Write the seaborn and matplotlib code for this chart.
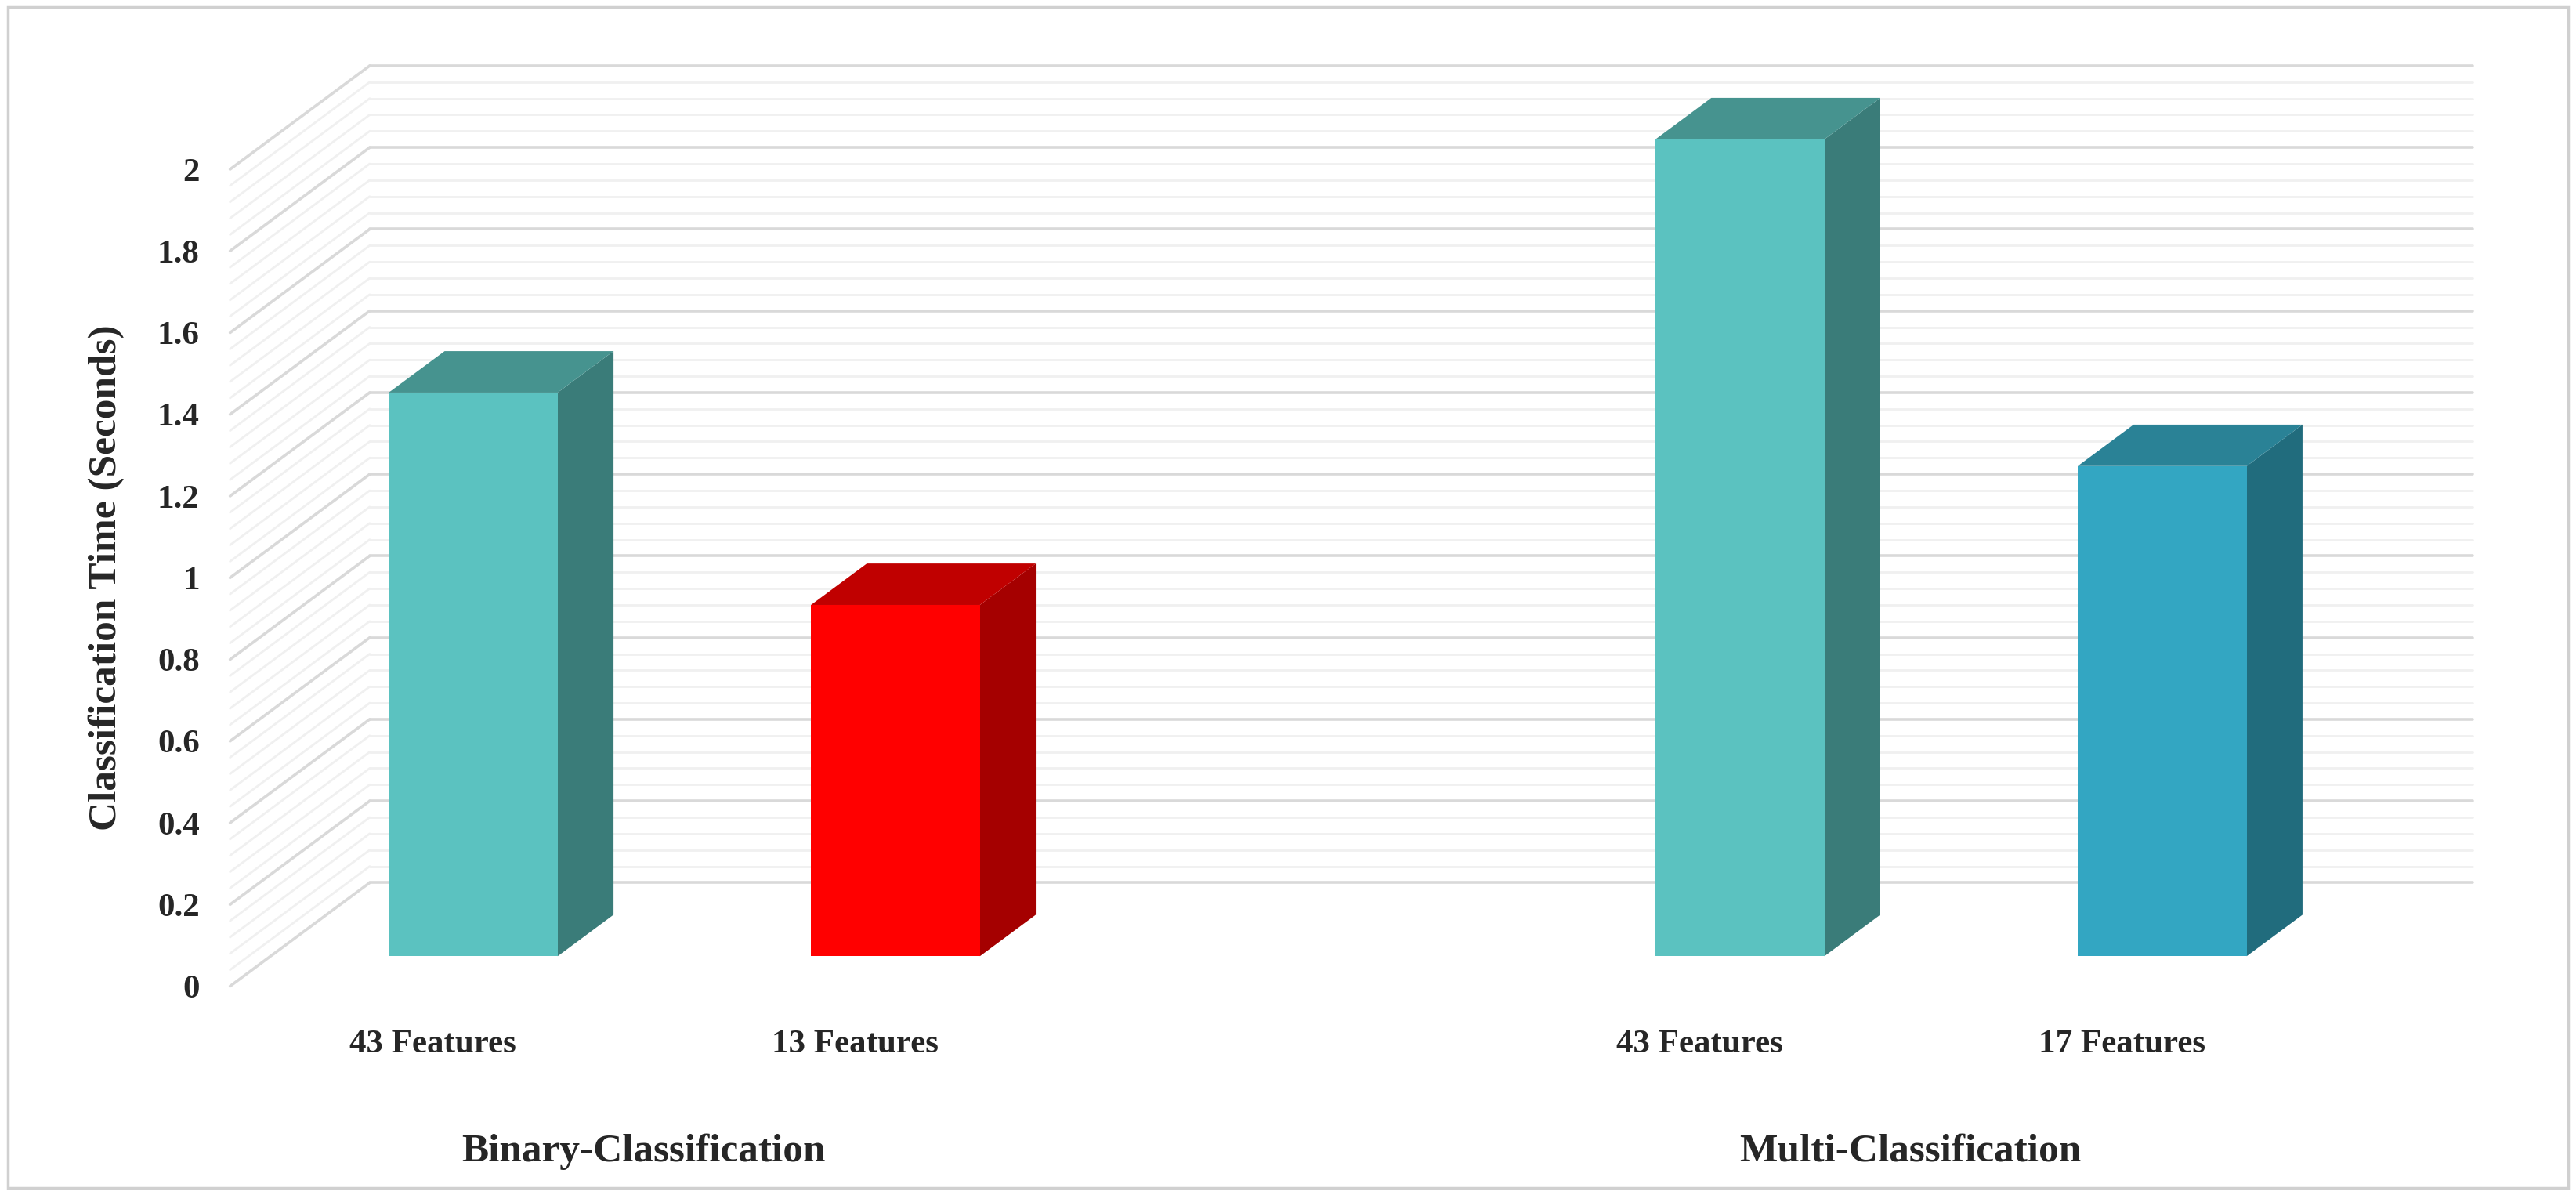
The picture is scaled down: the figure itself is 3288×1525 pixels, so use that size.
import numpy as np
import pandas as pd
import matplotlib
matplotlib.use("Agg")
import matplotlib.pyplot as plt
import seaborn as sns
from matplotlib.transforms import Affine2D
from matplotlib.patches import Polygon, Rectangle

# data
features = ["43 Features", "13 Features", "43 Features", "17 Features"]
groups = ["Binary-Classification", "Binary-Classification", "Multi-Classification", "Multi-Classification"]
xpos = [0, 1, 3, 4]
times = [1.38, 0.86, 2.0, 1.2]
front_cols = ["#5BC2C0", "#FF0000", "#5BC2C0", "#33A6C2"]
side_cols = ["#3A7C79", "#A50000", "#3A7C79", "#216C7D"]
top_cols = ["#46938F", "#C00000", "#46938F", "#2A8296"]
yticks = [0, 0.2, 0.4, 0.6, 0.8, 1, 1.2, 1.4, 1.6, 1.8, 2]

df = pd.DataFrame({"x": xpos, "time": times, "feat": features})

sns.set_style("white")
plt.rcParams["font.family"] = ["Liberation Serif", "DejaVu Serif"]

fig = plt.figure(figsize=(32.88, 15.25), dpi=100)
ax = fig.add_axes([0.0893, 0.1747, 0.8163, 0.6836])

sns.barplot(data=df, x="x", y="time", native_scale=True, width=0.4,
            palette=front_cols, hue="x", legend=False, ax=ax, saturation=1)

xl, xr = -0.48, 4.50
ax.set_xlim(xl, xr)
ax.set_ylim(0, 2)

# 3D depth vector (front axis plane -> back wall), in data units
Dx, Dy = 85 / 257, 63 / 248.5
b0, bd = 0.29, 0.40  # bar front depth, bar depth (fraction of D)

# grid: left wall diagonals + back wall horizontals
for v in np.arange(0, 2.0001, 0.04):
    major = abs(v / 0.2 - round(v / 0.2)) < 1e-6
    c = "#D9D9D9" if major else "#F0F0F0"
    lw = 2.6 if major else 2.0
    z = 1 if major else 0.5
    ax.plot([xl, xl + Dx], [v, v + Dy], color=c, lw=lw, clip_on=False, zorder=z)
    ax.plot([xl + Dx, xr + Dx], [v + Dy, v + Dy], color=c, lw=lw, clip_on=False, zorder=z)

# shift bars into depth and add side/top faces
shift = Affine2D().translate(b0 * Dx, b0 * Dy)
bars = [p for p in ax.patches if isinstance(p, Rectangle)]
for p, sc, tc in zip(bars, side_cols, top_cols):
    p.set_transform(shift + ax.transData)
    p.set_clip_on(False)
    p.set_zorder(5)
    p.set_edgecolor("none")
    x0 = p.get_x() + b0 * Dx
    x1 = x0 + p.get_width()
    y0 = b0 * Dy
    y1 = p.get_height() + y0
    ddx, ddy = bd * Dx, bd * Dy
    ax.add_patch(Polygon([(x1, y0), (x1 + ddx, y0 + ddy), (x1 + ddx, y1 + ddy), (x1, y1)],
                         closed=True, fc=sc, ec="none", clip_on=False, zorder=4))
    ax.add_patch(Polygon([(x0, y1), (x1, y1), (x1 + ddx, y1 + ddy), (x0 + ddx, y1 + ddy)],
                         closed=True, fc=tc, ec="none", clip_on=False, zorder=4))

for s in ax.spines.values():
    s.set_visible(False)

ax.set_yticks(yticks)
ax.set_yticklabels([f"{t:g}" for t in yticks], fontsize=31, fontweight="bold")
ax.tick_params(axis="y", length=0, pad=28)
ax.set_xticks(xpos)
ax.set_xticklabels(features, fontsize=31, fontweight="bold")
ax.tick_params(axis="x", length=0, pad=40)
ax.set_xlabel("")
ax.set_ylabel("Classification Time (Seconds)", fontsize=37, fontweight="bold", labelpad=30)

for gx, g in [(0.5, groups[0]), (3.5, groups[2])]:
    ax.text(gx, -0.18, g, ha="center", va="top", fontsize=37, fontweight="bold",
            transform=ax.get_xaxis_transform())

# outer border
fig.patches.append(Rectangle((0.003, 0.006), 0.994, 0.988, transform=fig.transFigure,
                             fill=False, ec="#D0D0D0", lw=2.5))

fig.savefig("out.png", dpi=100)
